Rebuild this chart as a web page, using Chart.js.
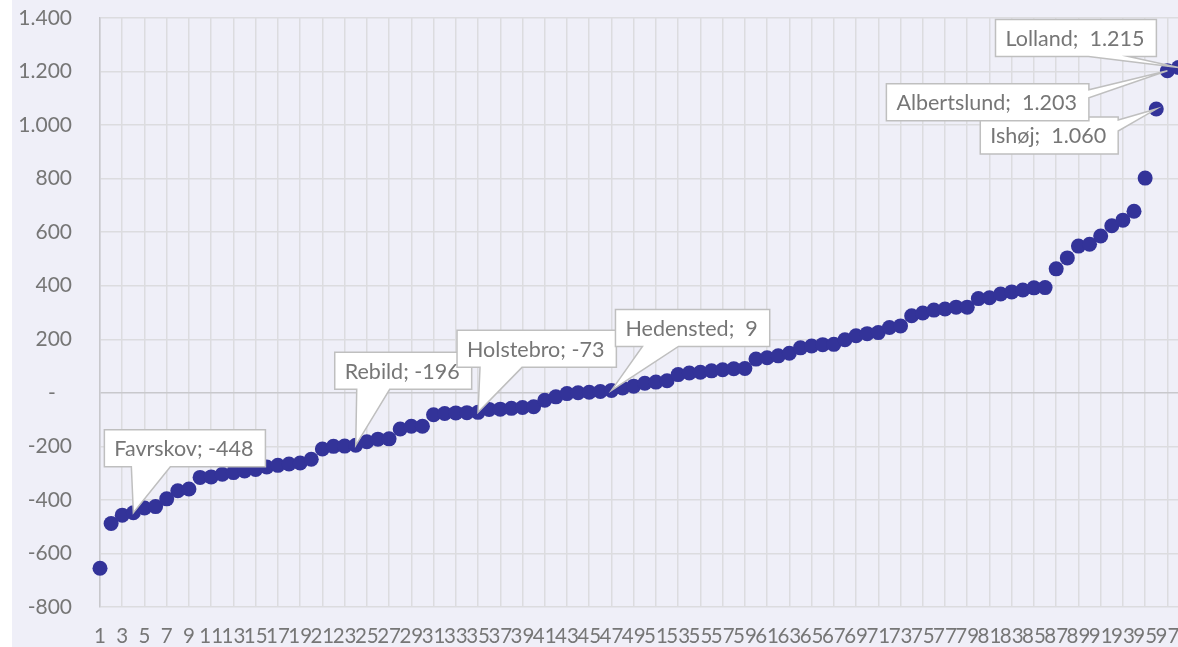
<!DOCTYPE html>
<html>
<head>
<meta charset="utf-8">
<script src="https://cdn.jsdelivr.net/npm/chart.js@4.4.1/dist/chart.umd.min.js"></script>
<style>
  body { margin: 0; background: #fff; overflow: hidden; }
  canvas { display: block; }
</style>
</head>
<body>
<canvas id="myChart" width="1186" height="647"></canvas>
<script>
// kommuner sorteret efter vaerdi, 1..98
let kategorier = ['1','2','3','4','5','6','7','8','9','10','11','12','13','14','15','16','17','18','19','20',
  '21','22','23','24','25','26','27','28','29','30','31','32','33','34','35','36','37','38','39','40',
  '41','42','43','44','45','46','47','48','49','50','51','52','53','54','55','56','57','58','59','60',
  '61','62','63','64','65','66','67','68','69','70','71','72','73','74','75','76','77','78','79','80',
  '81','82','83','84','85','86','87','88','89','90','91','92','93','94','95','96','97','98'];

let vaerdier = [-655,-488,-457,-448,-430,-425,-396,-366,-359,-316,
  -314,-304,-298,-292,-286,-277,-271,-266,-262,-248,
  -210,-200,-199,-196,-183,-173,-172,-135,-125,-125,
  -82,-77,-75,-74,-73,-62,-61,-58,-55,-52,
  -28,-15,-3,0,2,5,9,18,25,36,
  40,45,68,74,77,82,86,90,91,126,
  131,138,148,168,175,180,181,198,213,221,
  225,244,250,288,298,309,313,320,320,352,
  355,369,377,384,392,393,463,504,548,555,
  586,624,645,678,802,1060,1203,1215];

let yTicks = [-800,-600,-400,-200,0,200,400,600,800,1000,1200,1400];

// navngivne punkter
let labelIndex = [3, 23, 34, 46, 95, 96, 97];
let labelNavne = ['Favrskov','Rebild','Holstebro','Hedensted','Ishøj','Albertslund','Lolland'];

// placering af label-bokse (i forhold til punktet)
let labelBokse = [
  {dx:-29, dy:-83, side:'bottom', b0:27, b1:66},
  {dx:-21, dy:-93, side:'bottom', b0:22, b1:55},
  {dx:-21, dy:-82, side:'bottom', b0:23, b1:65},
  {dx:4,   dy:-81, side:'bottom', b0:27, b1:63},
  {dx:-176,dy:8,   side:'right',  b0:3,  b1:14},
  {dx:-281,dy:13,  side:'right',  b0:6,  b1:14},
  {dx:-183,dy:-48, side:'bottom', b0:93, b1:133}
];

const tekstFarve = '#767676';
const font = 'Lato, "Open Sans", sans-serif';

function fmt(v){
  if(v === 0) return '-';
  let s = Math.abs(v).toString();
  if(s.length > 3) s = s.slice(0, s.length-3) + '.' + s.slice(s.length-3);
  return (v < 0 ? '-' : '') + s;
}

const baggrund = {
  id: 'baggrund',
  beforeDraw(chart){
    let c = chart.ctx;
    c.save();
    c.fillStyle = '#ffffff';
    c.fillRect(0, 0, chart.width, chart.height);
    c.fillStyle = '#efeff8';
    c.fillRect(12, 0, chart.width-12, chart.height);
    c.restore();
  }
};

const labels = {
  id: 'labels',
  afterDatasetsDraw(chart){
    let c = chart.ctx;
    let meta = chart.getDatasetMeta(0);
    c.save();
    c.font = '21.5px ' + font;
    c.textBaseline = 'middle';
    for(let k = 0; k < labelIndex.length; k++){
      let i = labelIndex[k];
      let p = meta.data[i];
      let b = labelBokse[k];
      let v = vaerdier[i];
      let txt = labelNavne[k] + '; ' + (v >= 0 ? ' ' : '') + fmt(v);
      let w = c.measureText(txt).width + 22;
      let h = 37;
      let L = p.x + b.dx, T = p.y + b.dy, R = L + w, B = T + h;
      c.beginPath();
      c.moveTo(L, T);
      c.lineTo(R, T);
      if(b.side === 'right'){
        c.lineTo(R, T + b.b0);
        c.lineTo(p.x, p.y);
        c.lineTo(R, T + b.b1);
        c.lineTo(R, B);
        c.lineTo(L, B);
      } else {
        c.lineTo(R, B);
        c.lineTo(L + b.b1, B);
        c.lineTo(p.x, p.y);
        c.lineTo(L + b.b0, B);
        c.lineTo(L, B);
      }
      c.closePath();
      c.fillStyle = '#ffffff';
      c.fill();
      c.strokeStyle = '#bfbfbf';
      c.lineWidth = 1.5;
      c.stroke();
      c.fillStyle = tekstFarve;
      c.fillText(txt, L + 10, T + h/2 + 1);
    }
    c.restore();
  }
};

let ctx = document.getElementById('myChart').getContext('2d');
let chart = new Chart(ctx, {
  type: 'line',
  data: {
    labels: kategorier,
    datasets: [{
      data: vaerdier,
      showLine: false,
      pointRadius: 7.5,
      pointBorderWidth: 0,
      pointBackgroundColor: '#333399',
      pointBorderColor: '#333399',
      clip: false
    }]
  },
  options: {
    responsive: false,
    animation: false,
    events: [],
    layout: { padding: { left: 0, right: 0, top: 18, bottom: 0 } },
    plugins: { legend: { display: false }, tooltip: { enabled: false } },
    scales: {
      x: {
        offset: false,
        grid: {
          drawTicks: false,
          lineWidth: 1.5,
          color: (c) => (c.index % 2 === 0 ? '#dcdcdf' : 'rgba(0,0,0,0)')
        },
        border: { display: false },
        ticks: {
          autoSkip: false,
          maxRotation: 0,
          minRotation: 0,
          padding: 17,
          color: tekstFarve,
          font: { family: font, size: 20.5 },
          callback: function(val, index){ return index % 2 === 0 ? this.getLabelForValue(val) : ''; }
        },
        afterFit: (s) => { s.height = 40; s.paddingLeft = 0; s.paddingRight = 0; }
      },
      y: {
        min: -800,
        max: 1400,
        afterBuildTicks: (s) => { s.ticks = yTicks.map(v => ({ value: v })); },
        grid: {
          drawTicks: false,
          lineWidth: 1.5,
          color: (c) => (c.tick && c.tick.value === 0 ? '#c8c8cc' : '#dcdcdf')
        },
        border: { display: true, color: '#c8c8cc', width: 1.5 },
        ticks: {
          padding: 28,
          color: tekstFarve,
          font: { family: font, size: 21 },
          callback: (v) => (v === 0 ? '-   ' : fmt(v))
        },
        afterFit: (s) => { s.width = 100; s.paddingTop = 0; s.paddingBottom = 0; }
      }
    }
  },
  plugins: [baggrund, labels]
});
</script>
</body>
</html>
